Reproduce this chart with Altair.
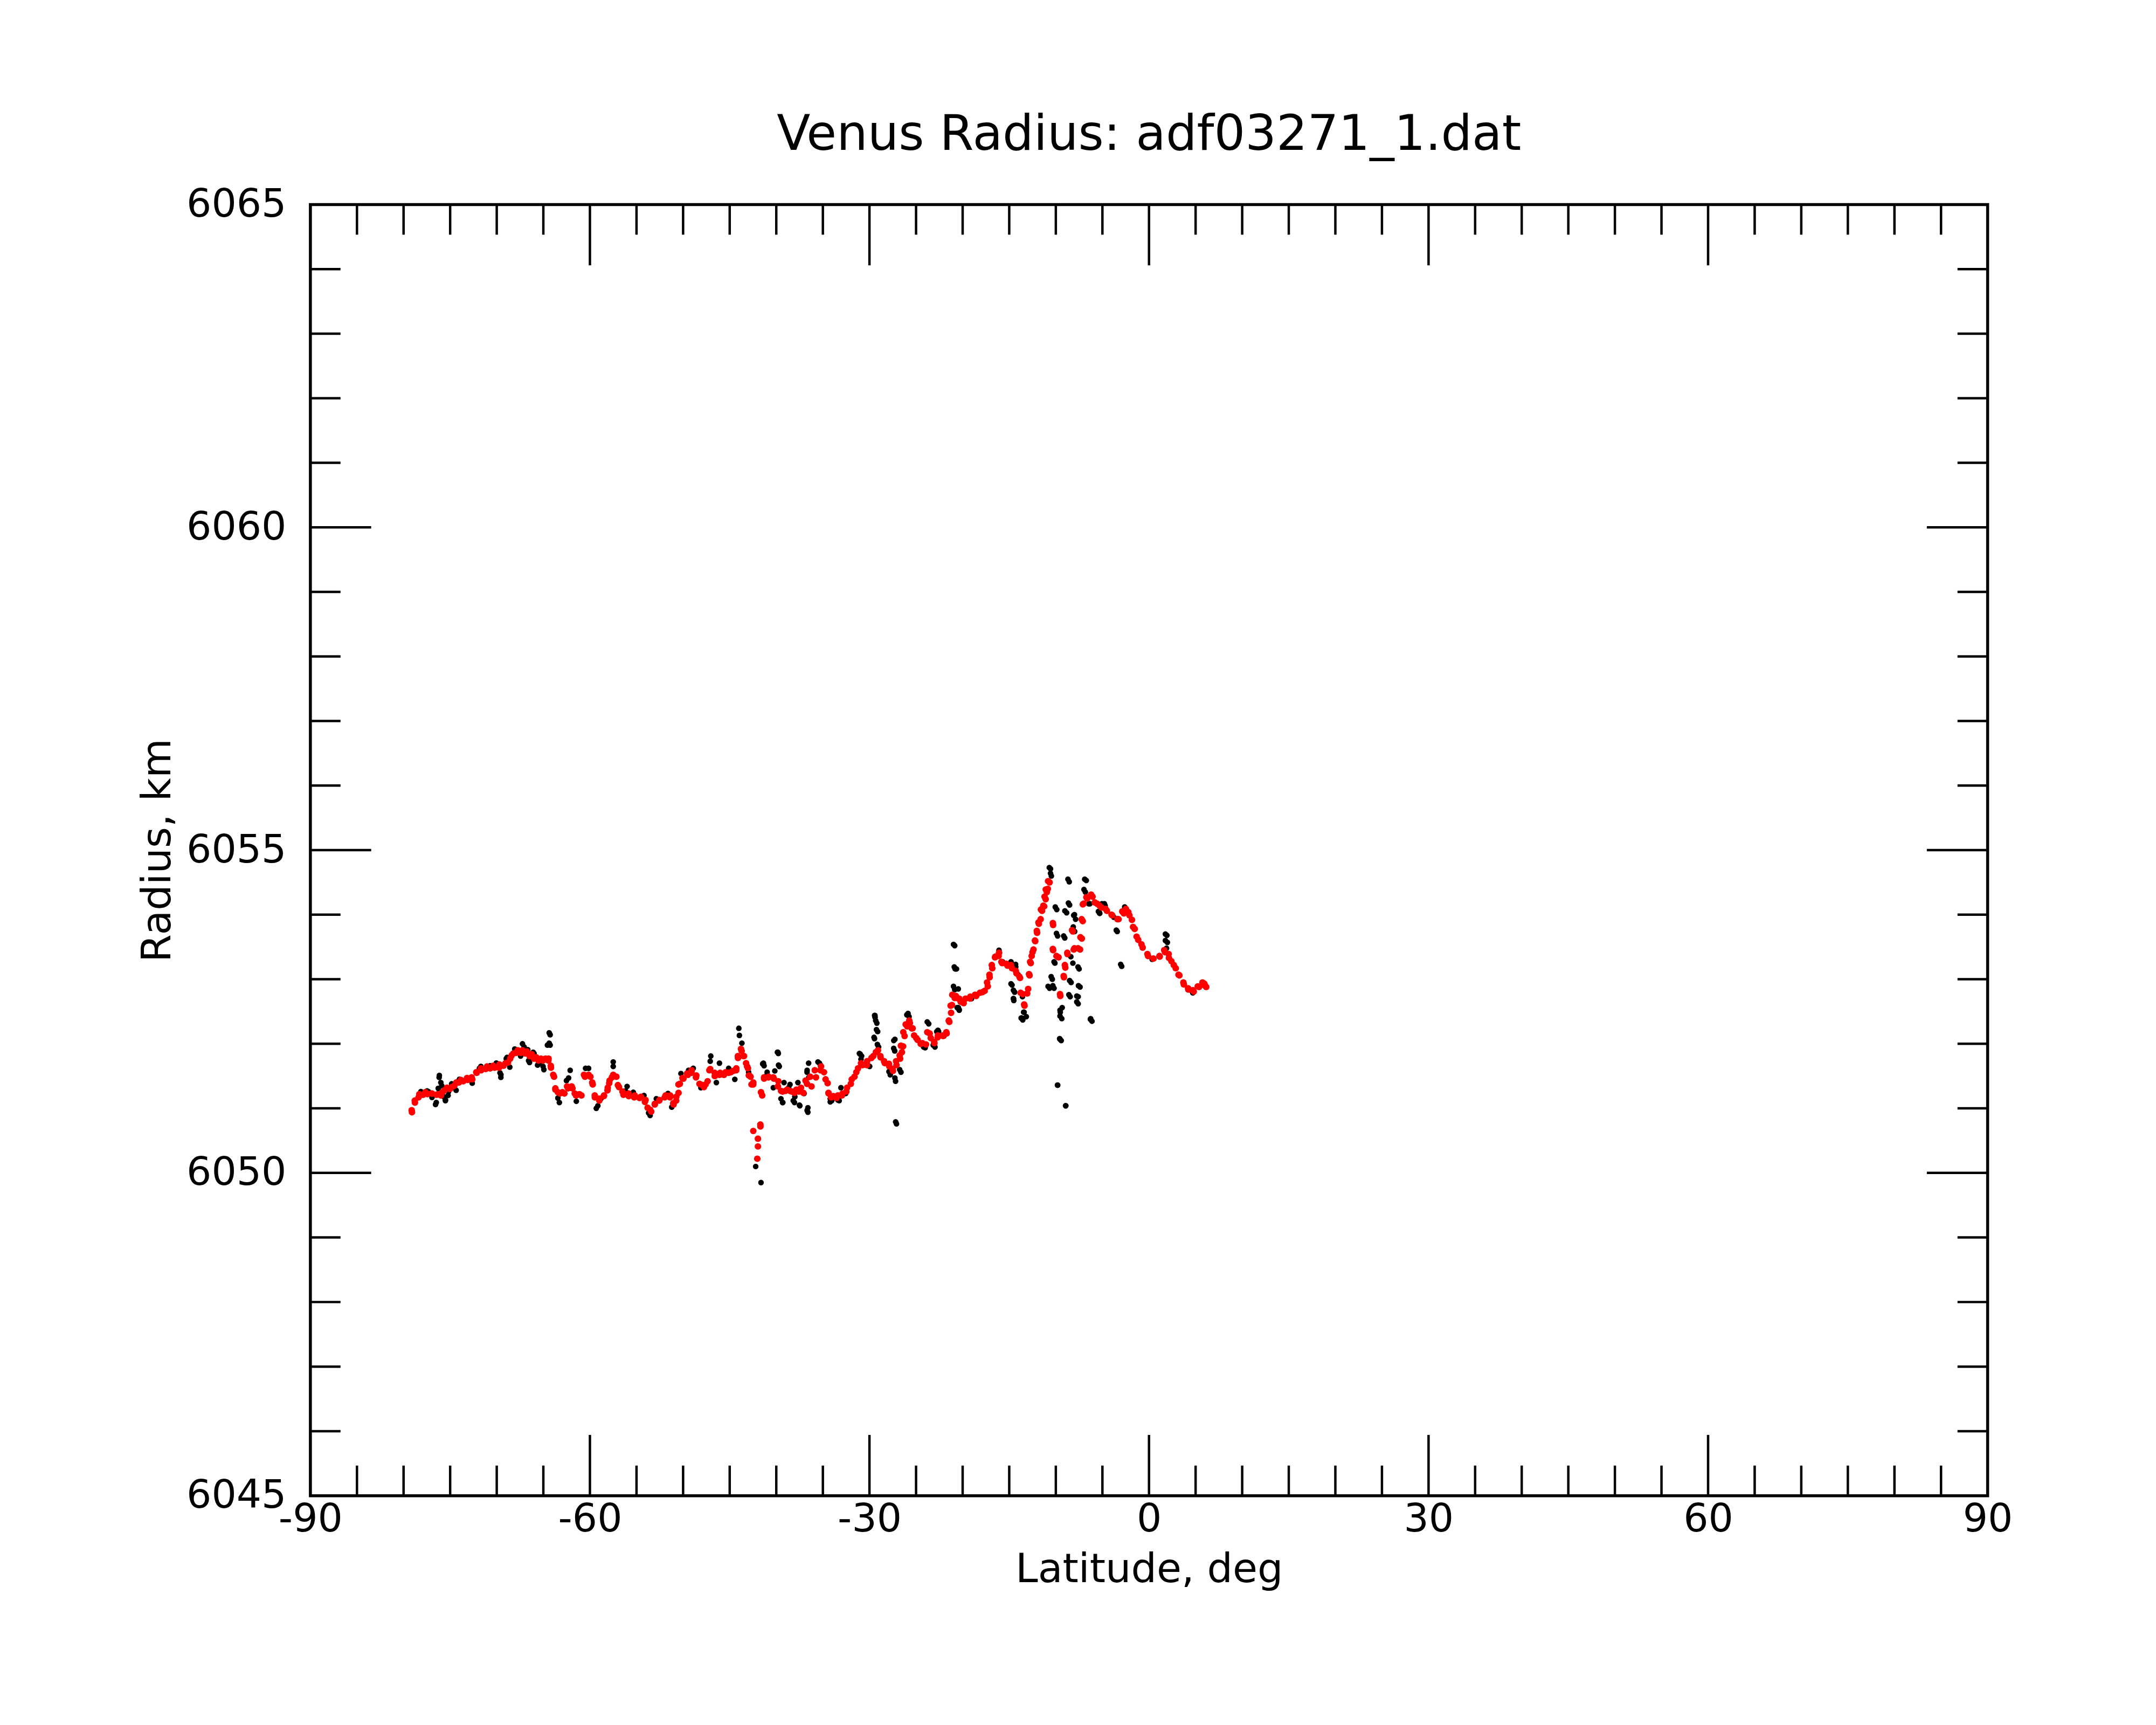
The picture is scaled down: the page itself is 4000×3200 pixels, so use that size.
import altair as alt
import pandas as pd

# ---------------- smoothed radius (red), (latitude deg, radius km) ----------------
red_south = [
    (-79.13, 6050.97), (-79.10, 6050.94), (-78.80, 6051.12), (-78.78, 6051.09), (-78.39, 6051.17),
    (-78.31, 6051.22), (-77.91, 6051.21), (-77.65, 6051.25), (-77.43, 6051.22), (-76.99, 6051.23),
    (-76.95, 6051.23), (-76.47, 6051.21), (-76.33, 6051.22), (-75.99, 6051.20), (-75.83, 6051.25),
    (-75.61, 6051.28), (-75.34, 6051.32), (-75.03, 6051.30), (-74.84, 6051.33), (-74.55, 6051.35),
    (-74.34, 6051.40), (-74.07, 6051.40), (-73.85, 6051.44), (-73.59, 6051.42), (-73.19, 6051.47),
    (-73.11, 6051.44), (-72.69, 6051.48), (-72.63, 6051.45), (-72.20, 6051.56), (-72.15, 6051.55),
    (-71.70, 6051.62), (-71.67, 6051.59), (-71.19, 6051.61), (-71.04, 6051.65), (-70.71, 6051.62),
    (-70.38, 6051.66), (-70.23, 6051.63), (-69.75, 6051.63), (-69.72, 6051.68), (-69.27, 6051.66),
    (-69.06, 6051.70), (-68.79, 6051.71), (-68.56, 6051.77), (-68.40, 6051.82), (-68.23, 6051.85),
    (-67.92, 6051.86), (-67.74, 6051.90), (-67.44, 6051.86), (-67.24, 6051.90), (-66.96, 6051.85),
    (-66.75, 6051.88), (-66.48, 6051.81), (-66.25, 6051.84), (-66.00, 6051.77), (-65.76, 6051.79),
    (-65.52, 6051.74), (-65.26, 6051.77), (-65.04, 6051.74), (-64.77, 6051.77), (-64.46, 6051.74),
    (-64.44, 6051.77), (-64.20, 6051.66), (-64.18, 6051.63), (-63.94, 6051.52), (-63.85, 6051.49),
    (-63.71, 6051.31), (-63.70, 6051.29), (-63.44, 6051.25), (-63.22, 6051.23), (-62.95, 6051.25),
    (-62.74, 6051.23), (-62.45, 6051.34), (-62.35, 6051.31), (-61.96, 6051.34), (-61.87, 6051.31),
    (-61.63, 6051.23), (-61.49, 6051.20), (-61.13, 6051.22), (-60.91, 6051.20), (-60.64, 6051.52),
    (-60.53, 6051.49), (-60.14, 6051.52), (-59.95, 6051.49), (-59.75, 6051.40), (-59.70, 6051.37),
    (-59.48, 6051.20), (-59.47, 6051.17), (-58.99, 6051.15), (-58.99, 6051.12), (-58.51, 6051.19),
    (-58.49, 6051.20), (-58.12, 6051.28), (-58.09, 6051.32), (-57.93, 6051.39), (-57.89, 6051.43),
    (-57.64, 6051.48), (-57.50, 6051.52), (-57.16, 6051.49), (-57.00, 6051.36), (-56.88, 6051.33),
]
red_mid = [
    (-56.51, 6051.26), (-56.40, 6051.21), (-55.85, 6051.23), (-55.83, 6051.19), (-55.25, 6051.17),
    (-55.19, 6051.20), (-54.67, 6051.16), (-54.53, 6051.18), (-54.10, 6051.10), (-54.03, 6051.13),
    (-53.81, 6051.01), (-53.54, 6050.98), (-53.42, 6050.95), (-53.04, 6051.07), (-53.04, 6051.06),
    (-52.56, 6051.12), (-52.54, 6051.13), (-51.98, 6051.17), (-51.88, 6051.20), (-51.41, 6051.17),
    (-51.39, 6051.20), (-51.06, 6051.08), (-51.02, 6051.06), (-50.74, 6051.12), (-50.73, 6051.18),
    (-50.50, 6051.37), (-50.49, 6051.24), (-50.35, 6051.38), (-50.07, 6051.47), (-49.97, 6051.46),
    (-49.57, 6051.54), (-49.49, 6051.52), (-49.10, 6051.55), (-49.08, 6051.59), (-48.62, 6051.48),
    (-48.58, 6051.51), (-48.24, 6051.38), (-48.09, 6051.37), (-47.76, 6051.33), (-47.59, 6051.37),
    (-47.37, 6051.42), (-47.18, 6051.59), (-47.09, 6051.61), (-46.61, 6051.55), (-46.60, 6051.50),
    (-46.10, 6051.52), (-46.03, 6051.55), (-45.61, 6051.52), (-45.45, 6051.56), (-45.11, 6051.55),
    (-44.88, 6051.56), (-44.62, 6051.58), (-44.30, 6051.59), (-44.29, 6051.62), (-44.12, 6051.81),
    (-44.11, 6051.78), (-43.79, 6051.92), (-43.72, 6051.89), (-43.53, 6051.81), (-43.46, 6051.81),
    (-43.24, 6051.70), (-43.13, 6051.65), (-43.04, 6051.62), (-42.95, 6051.51), (-42.90, 6051.51),
    (-42.76, 6051.49), (-42.66, 6051.37), (-42.47, 6051.40), (-42.47, 6051.37),
]
red_dip = [
    (-42.47, 6050.65), (-41.97, 6050.53), (-41.97, 6050.41), (-42.04, 6050.22), (-41.71, 6050.75),
    (-41.70, 6050.72),
]
red_rise = [
    (-41.64, 6051.25), (-41.51, 6051.20), (-41.31, 6051.48), (-41.31, 6051.46), (-40.83, 6051.48),
    (-40.82, 6051.49), (-40.32, 6051.48), (-40.26, 6051.46), (-39.83, 6051.34), (-39.78, 6051.42),
    (-39.49, 6051.27), (-39.33, 6051.26), (-39.01, 6051.27), (-38.84, 6051.29), (-38.53, 6051.27),
    (-38.34, 6051.26), (-38.05, 6051.24), (-37.85, 6051.29), (-37.57, 6051.26), (-37.35, 6051.32),
    (-37.09, 6051.24), (-36.86, 6051.43), (-36.70, 6051.38), (-36.36, 6051.49), (-36.22, 6051.34),
    (-35.87, 6051.59), (-35.74, 6051.48), (-35.26, 6051.59), (-35.20, 6051.65), (-34.88, 6051.56),
    (-34.71, 6051.45), (-34.49, 6051.39), (-34.40, 6051.24), (-34.38, 6051.23), (-34.11, 6051.17),
    (-33.88, 6051.19), (-33.53, 6051.16), (-33.39, 6051.20), (-32.96, 6051.20), (-32.89, 6051.23),
    (-32.48, 6051.26), (-32.40, 6051.32), (-32.00, 6051.38), (-31.90, 6051.45), (-31.61, 6051.49),
    (-31.41, 6051.56), (-31.23, 6051.62), (-30.91, 6051.70), (-30.75, 6051.67), (-30.27, 6051.67),
    (-30.25, 6051.73), (-29.79, 6051.78), (-29.59, 6051.81), (-29.31, 6051.87), (-29.09, 6051.90),
    (-28.83, 6051.81), (-28.81, 6051.79), (-28.43, 6051.73), (-28.35, 6051.70), (-27.91, 6051.69),
    (-27.87, 6051.65), (-27.53, 6051.61), (-27.48, 6051.58), (-27.14, 6051.73), (-27.10, 6051.67),
    (-26.76, 6051.82), (-26.71, 6051.77), (-26.63, 6051.97), (-26.52, 6051.87), (-26.39, 6051.96),
    (-26.37, 6052.18), (-26.23, 6052.12), (-26.11, 6052.30), (-25.95, 6052.27), (-25.73, 6052.36),
    (-25.66, 6052.32), (-25.47, 6052.24), (-25.37, 6052.24), (-25.21, 6052.13), (-24.98, 6052.09),
    (-24.83, 6052.06), (-24.50, 6052.00), (-24.32, 6052.01), (-23.93, 6051.99), (-23.80, 6052.18),
    (-23.54, 6052.16), (-23.42, 6052.09), (-23.06, 6052.03), (-23.03, 6052.01), (-22.68, 6052.10),
    (-22.65, 6052.13), (-22.13, 6052.13), (-22.10, 6052.12), (-21.75, 6052.18), (-21.72, 6052.16),
    (-21.49, 6052.36), (-21.43, 6052.34), (-21.29, 6052.59), (-21.24, 6052.48), (-21.14, 6052.60),
    (-21.11, 6052.76), (-20.85, 6052.71), (-20.72, 6052.74), (-20.47, 6052.70), (-20.37, 6052.70),
]
red_north = [
    (-20.21, 6052.65), (-19.89, 6052.63), (-19.69, 6052.70), (-19.22, 6052.70), (-19.18, 6052.73),
    (-18.67, 6052.76), (-18.55, 6052.74), (-18.15, 6052.79), (-17.87, 6052.80), (-17.64, 6052.82),
    (-17.38, 6052.95), (-17.30, 6052.89), (-17.12, 6053.07), (-17.10, 6053.03), (-16.87, 6053.22),
    (-16.82, 6053.17), (-16.53, 6053.34), (-16.48, 6053.35), (-16.14, 6053.36), (-16.10, 6053.41),
    (-15.84, 6053.27), (-15.76, 6053.25), (-15.32, 6053.24), (-15.18, 6053.21), (-14.81, 6053.22),
    (-14.70, 6053.17), (-14.30, 6053.13), (-14.22, 6053.09), (-13.91, 6053.04), (-13.84, 6053.02),
    (-13.78, 6052.79), (-13.55, 6052.77), (-13.40, 6052.61), (-13.36, 6052.59), (-13.07, 6052.78),
    (-12.97, 6052.85), (-12.88, 6053.08), (-12.82, 6053.06), (-12.76, 6053.27), (-12.69, 6053.25),
    (-12.59, 6053.36), (-12.50, 6053.42), (-12.40, 6053.46), (-12.24, 6053.60), (-12.21, 6053.59),
    (-12.04, 6053.75), (-12.01, 6053.72), (-11.86, 6053.88), (-11.82, 6053.86), (-11.63, 6053.93),
    (-11.60, 6054.08), (-11.48, 6054.06), (-11.34, 6054.14), (-11.25, 6054.13), (-11.21, 6054.28),
    (-11.09, 6054.24), (-11.08, 6054.39), (-10.96, 6054.35), (-10.86, 6054.40), (-10.83, 6054.52),
    (-10.67, 6054.50),
    (-10.32, 6053.87), (-10.29, 6053.84), (-10.32, 6053.47), (-10.29, 6053.45), (-9.93, 6053.36),
    (-9.71, 6053.34), (-9.55, 6052.77), (-9.52, 6052.74), (-9.16, 6053.05), (-9.13, 6053.03),
    (-9.03, 6053.22), (-8.98, 6053.18), (-8.77, 6053.41), (-8.75, 6053.39), (-8.26, 6053.76),
    (-8.17, 6053.74), (-8.08, 6053.46), (-8.00, 6053.48), (-7.62, 6053.48), (-7.40, 6053.46),
    (-7.36, 6053.65), (-7.21, 6053.63), (-7.23, 6053.93), (-7.11, 6053.90), (-7.10, 6054.16),
    (-7.02, 6054.17),
    (-6.72, 6054.27), (-6.63, 6054.25), (-6.21, 6054.31), (-6.06, 6054.28), (-5.82, 6054.19),
    (-5.57, 6054.17), (-5.31, 6054.14), (-5.10, 6054.11), (-4.66, 6054.09), (-4.52, 6054.06),
    (-4.02, 6054.00), (-3.94, 6053.99), (-3.38, 6053.93), (-3.27, 6053.93), (-2.87, 6054.05),
    (-2.70, 6054.02), (-2.48, 6054.09), (-2.22, 6054.04), (-2.10, 6053.99), (-1.83, 6053.92),
    (-1.71, 6053.81), (-1.54, 6053.78), (-1.33, 6053.66), (-1.16, 6053.61), (-0.81, 6053.54),
    (-0.68, 6053.49), (-0.17, 6053.39), (-0.10, 6053.36), (0.47, 6053.32), (0.47, 6053.32),
    (1.12, 6053.36), (1.15, 6053.35), (1.63, 6053.45), (1.72, 6053.42), (2.11, 6053.39),
    (2.14, 6053.33), (2.40, 6053.28), (2.66, 6053.22), (2.87, 6053.17), (3.17, 6053.07),
    (3.26, 6053.06), (3.69, 6052.95), (3.74, 6052.92), (4.20, 6052.86), (4.22, 6052.84),
    (4.71, 6052.83), (4.80, 6052.81), (5.23, 6052.89), (5.37, 6052.88), (5.74, 6052.95),
    (5.95, 6052.93), (6.00, 6052.90), (6.14, 6052.88),
]

# ---------------- raw radius (black), (latitude deg, radius km) ----------------
blk_south = [
    (-78.14, 6051.26), (-77.72, 6051.24), (-77.48, 6051.27), (-77.34, 6051.26), (-76.95, 6051.17),
    (-76.82, 6051.20), (-76.57, 6051.06), (-76.49, 6051.09), (-76.28, 6051.31), (-76.18, 6051.48),
    (-76.16, 6051.51), (-76.00, 6051.40), (-75.90, 6051.35), (-75.67, 6051.18), (-75.51, 6051.12),
    (-75.50, 6051.13), (-75.22, 6051.20), (-75.17, 6051.26), (-74.84, 6051.38), (-74.67, 6051.32),
    (-74.36, 6051.28), (-74.01, 6051.45), (-73.88, 6051.44), (-73.21, 6051.46), (-72.69, 6051.43),
    (-72.63, 6051.39), (-71.86, 6051.62), (-71.70, 6051.65), (-70.71, 6051.66), (-70.05, 6051.70),
    (-70.04, 6051.70), (-69.65, 6051.55), (-69.56, 6051.48), (-69.55, 6051.52), (-68.98, 6051.77),
    (-68.89, 6051.79), (-68.60, 6051.64), (-68.07, 6051.92), (-67.83, 6051.89), (-67.44, 6051.81),
    (-67.41, 6051.84), (-67.24, 6052.00), (-67.06, 6051.95), (-66.67, 6051.91), (-66.58, 6051.74),
    (-66.48, 6051.71), (-66.09, 6051.87), (-66.00, 6051.85), (-65.62, 6051.67), (-65.43, 6051.70),
    (-65.03, 6051.65), (-64.94, 6051.60), (-64.56, 6051.98), (-64.37, 6052.17), (-64.27, 6052.14),
    (-64.37, 6052.01), (-64.27, 6051.98), (-63.44, 6051.16), (-63.28, 6051.09), (-62.52, 6051.43),
    (-62.29, 6051.47), (-62.12, 6051.59), (-61.46, 6051.11), (-60.47, 6051.62), (-60.14, 6051.62),
    (-59.32, 6051.00), (-59.15, 6051.04), (-58.82, 6051.15), (-57.50, 6051.72), (-57.50, 6051.65),
    (-56.18, 6051.27), (-56.01, 6051.34), (-55.35, 6051.25), (-54.20, 6051.20), (-53.70, 6050.93),
    (-53.54, 6050.89), (-52.87, 6051.15), (-51.62, 6051.23), (-51.22, 6051.02), (-50.23, 6051.54),
    (-49.41, 6051.59), (-48.91, 6051.62), (-48.09, 6051.32), (-47.09, 6051.73), (-47.03, 6051.81),
    (-46.43, 6051.40), (-46.10, 6051.70), (-45.11, 6051.62), (-44.45, 6051.45), (-44.02, 6052.24),
    (-43.96, 6052.13), (-43.69, 6052.01), (-42.97, 6051.56),
]
blk_dip = [(-42.21, 6050.10), (-41.64, 6049.85)]
blk_rise = [
    (-41.46, 6051.69), (-41.38, 6051.70), (-41.31, 6051.66), (-41.03, 6051.51), (-40.98, 6051.56),
    (-40.32, 6051.32), (-40.16, 6051.58), (-39.88, 6051.87), (-39.83, 6051.87), (-39.78, 6051.85),
    (-39.76, 6051.67), (-39.68, 6051.65), (-39.50, 6051.15), (-39.33, 6051.09), (-39.30, 6051.09),
    (-39.17, 6051.40), (-38.67, 6051.32), (-38.53, 6051.37), (-38.18, 6051.12), (-38.05, 6051.09),
    (-38.01, 6051.18), (-37.68, 6051.40), (-37.52, 6051.05), (-37.47, 6051.04), (-37.02, 6051.23),
    (-36.70, 6051.56), (-36.69, 6050.97), (-36.61, 6051.01), (-36.61, 6050.94), (-36.69, 6051.59),
    (-36.53, 6051.70), (-36.51, 6051.48), (-35.53, 6051.72), (-35.37, 6051.70), (-35.26, 6051.67),
    (-34.21, 6051.15), (-34.21, 6051.10), (-34.05, 6051.12), (-33.39, 6051.13), (-33.25, 6051.12),
    (-33.06, 6051.32), (-32.56, 6051.23), (-31.08, 6051.85), (-30.99, 6051.84), (-30.91, 6051.76),
    (-30.84, 6051.81), (-30.25, 6051.67), (-30.10, 6051.66), (-29.98, 6051.65), (-29.51, 6052.10),
    (-29.46, 6052.08), (-29.45, 6052.44), (-29.41, 6052.44), (-29.40, 6052.41), (-29.33, 6052.36),
    (-29.25, 6052.22), (-29.21, 6052.32), (-29.15, 6051.99), (-29.12, 6052.19), (-29.02, 6051.95),
    (-27.91, 6051.57), (-27.77, 6051.52), (-27.40, 6051.93), (-27.39, 6052.05), (-27.29, 6051.89),
    (-27.27, 6052.07), (-27.27, 6051.47), (-27.20, 6051.42), (-27.19, 6050.79), (-27.10, 6050.76),
    (-26.76, 6051.60), (-26.62, 6051.56), (-25.99, 6052.45), (-25.86, 6052.47), (-25.75, 6052.42),
    (-24.19, 6051.95), (-24.02, 6051.94), (-23.80, 6052.34), (-23.64, 6052.31), (-23.16, 6051.98),
    (-22.97, 6051.95), (-22.78, 6052.19), (-22.65, 6052.21), (-22.58, 6052.19), (-22.01, 6052.12),
    (-20.98, 6053.54), (-20.85, 6053.52), (-20.90, 6053.19), (-20.80, 6053.16), (-20.98, 6052.89),
    (-20.85, 6052.84), (-20.66, 6053.16), (-20.59, 6052.56), (-20.47, 6052.85), (-20.46, 6052.56),
    (-20.37, 6052.53), (-20.37, 6052.52),
]
blk_north = [
    (-19.05, 6052.70), (-16.10, 6053.45), (-16.05, 6053.41), (-15.71, 6053.27), (-14.90, 6053.25),
    (-14.81, 6053.27), (-14.81, 6052.93), (-14.70, 6052.91), (-14.55, 6052.83), (-14.55, 6052.70),
    (-14.54, 6052.70), (-14.51, 6052.67), (-14.42, 6052.80), (-14.32, 6053.23), (-14.30, 6053.19),
    (-14.04, 6053.07), (-13.72, 6052.40), (-13.66, 6052.40), (-13.58, 6052.73), (-13.55, 6052.37),
    (-13.46, 6052.49), (-13.40, 6052.49), (-13.17, 6052.42),
    (-10.70, 6054.73), (-10.57, 6054.71), (-10.57, 6054.64), (-10.48, 6054.60), (-10.06, 6054.12),
    (-9.90, 6054.08), (-9.93, 6053.71), (-9.81, 6053.67), (-10.19, 6053.27), (-10.10, 6053.25),
    (-10.50, 6053.04), (-10.38, 6053.00), (-10.83, 6052.89), (-10.67, 6052.86), (-10.32, 6052.90),
    (-10.19, 6052.86), (-9.55, 6052.52), (-9.32, 6052.56), (-9.52, 6052.49), (-9.55, 6052.43),
    (-9.36, 6052.39), (-9.55, 6052.07), (-9.42, 6052.05), (-9.59, 6052.08), (-9.80, 6051.36),
    (-9.82, 6051.36), (-8.93, 6051.04), (-8.95, 6051.04), (-9.16, 6053.67), (-9.04, 6053.64),
    (-9.03, 6054.06), (-8.84, 6054.03), (-8.70, 6054.55), (-8.56, 6054.51), (-8.65, 6054.18),
    (-8.52, 6054.15), (-8.39, 6053.35), (-8.52, 6052.98), (-8.36, 6052.95), (-8.13, 6053.81),
    (-8.08, 6053.99), (-8.00, 6054.00), (-7.88, 6053.93), (-7.98, 6053.74), (-7.62, 6053.19),
    (-8.17, 6053.25), (-7.57, 6052.90), (-7.50, 6053.16), (-7.40, 6052.88), (-7.75, 6052.74),
    (-7.60, 6052.73), (-7.75, 6052.65), (-7.60, 6052.62), (-8.60, 6052.76), (-8.46, 6052.73),
    (-6.90, 6054.55), (-6.73, 6054.53), (-6.98, 6054.39), (-6.83, 6054.35), (-6.46, 6054.17),
    (-6.35, 6054.17), (-6.26, 6052.39), (-6.29, 6052.38), (-6.12, 6052.35), (-5.43, 6054.05),
    (-5.31, 6054.03), (-5.29, 6054.02), (-5.05, 6054.17), (-4.79, 6054.17), (-4.71, 6054.14),
    (-3.77, 6053.96), (-3.51, 6053.76), (-3.41, 6053.74), (-3.04, 6053.23), (-2.93, 6053.20),
    (-2.61, 6054.12), (0.34, 6053.31), (1.76, 6053.70), (1.92, 6053.68), (1.76, 6053.60),
    (1.97, 6053.57), (1.88, 6053.48), (4.58, 6052.82), (4.70, 6052.79),
]

# ---------------- axis ticks ----------------
x_major = [-90, -60, -30, 0, 30, 60, 90]
x_minor = [v for v in range(-85, 90, 5) if v % 30 != 0]
y_major = [6045, 6050, 6055, 6060, 6065]
y_minor = [v for v in range(6046, 6065) if v % 5 != 0]

W, H = 3118, 2400
MAJ, MIN = 113, 56
FONT = "DejaVu Sans"

xscale = alt.Scale(domain=[-90, 90], nice=False, zero=False)
yscale = alt.Scale(domain=[6045, 6065], nice=False, zero=False)

red_pts = red_south + red_mid + red_dip + red_rise + red_north
blk_pts = blk_south + blk_dip + blk_rise + blk_north
df_red = pd.DataFrame(red_pts, columns=["lat", "rad"])
df_blk = pd.DataFrame(blk_pts, columns=["lat", "rad"])

x_axis = alt.Axis(values=x_major, labelExpr="datum.value + ''", ticks=False, tickSize=0,
                  domain=False, grid=False, labelFont=FONT, labelFontSize=73,
                  labelColor="black", labelPadding=8, labelFlush=False, labelLimit=0,
                  title="Latitude, deg", titleFont=FONT, titleFontSize=75,
                  titleFontWeight="normal", titleColor="black", titlePadding=20)
y_axis = alt.Axis(values=y_major, labelExpr="datum.value + ''", ticks=False, tickSize=0,
                  domain=False, grid=False, labelFont=FONT, labelFontSize=73,
                  labelColor="black", labelPadding=45, labelFlush=False, labelLimit=0,
                  labelBaseline="middle",
                  title="Radius, km", titleFont=FONT, titleFontSize=75,
                  titleFontWeight="normal", titleColor="black", titlePadding=45)

blk = alt.Chart(df_blk).mark_circle(color="black", opacity=1, size=110).encode(
    x=alt.X("lat:Q", scale=xscale, axis=x_axis),
    y=alt.Y("rad:Q", scale=yscale, axis=y_axis),
)
red = alt.Chart(df_red).mark_circle(color="#ff0000", opacity=1, size=150).encode(
    x=alt.X("lat:Q", scale=xscale),
    y=alt.Y("rad:Q", scale=yscale),
)

def xticks(vals, length):
    d = pd.DataFrame({"v": vals})
    bottom = alt.Chart(d).mark_rule(color="black", strokeWidth=4.5).encode(
        x=alt.X("v:Q", scale=xscale), y=alt.value(H), y2=alt.value(H - length))
    top = alt.Chart(d).mark_rule(color="black", strokeWidth=4.5).encode(
        x=alt.X("v:Q", scale=xscale), y=alt.value(0), y2=alt.value(length))
    return [bottom, top]

def yticks(vals, length):
    d = pd.DataFrame({"v": vals})
    left = alt.Chart(d).mark_rule(color="black", strokeWidth=4.5).encode(
        y=alt.Y("v:Q", scale=yscale), x=alt.value(0), x2=alt.value(length))
    right = alt.Chart(d).mark_rule(color="black", strokeWidth=4.5).encode(
        y=alt.Y("v:Q", scale=yscale), x=alt.value(W), x2=alt.value(W - length))
    return [left, right]

layers = [blk, red] + xticks(x_major, MAJ) + xticks(x_minor, MIN) + yticks(y_major, MAJ) + yticks(y_minor, MIN)

chart = alt.layer(*layers).properties(
    width=W, height=H,
    title=alt.TitleParams("Venus Radius: adf03271_1.dat", font=FONT, fontSize=91,
                          fontWeight="normal", color="black", anchor="middle",
                          baseline="alphabetic", offset=60, dy=85),
    autosize=alt.AutoSizeParams(type="none"),
    padding={"left": 569, "top": 369, "right": 305, "bottom": 423},
    background="white",
).configure_view(stroke="black", strokeWidth=5.5)

chart.save("out.html", embed_options={"renderer": "svg", "actions": False})
